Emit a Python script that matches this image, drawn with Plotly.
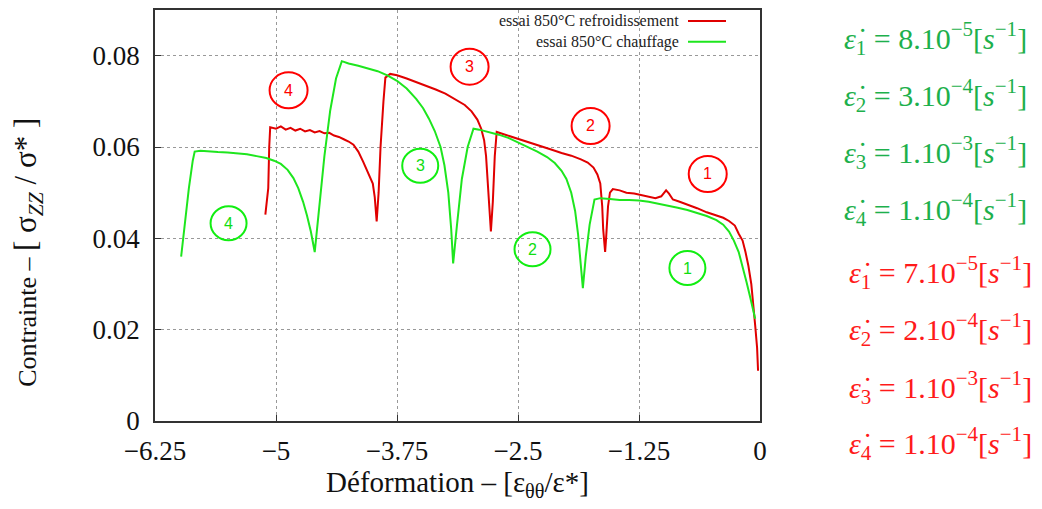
import plotly.graph_objects as go

# ---------------- data ----------------
red_x = [-5.11, -5.10, -5.09, -5.08, -5.07, -5.06, -5.00, -4.95, -4.90, -4.85, -4.80, -4.75, -4.70,
         -4.65, -4.60, -4.55, -4.50, -4.45, -4.40, -4.35, -4.30, -4.25, -4.20, -4.15, -4.10, -4.05,
         -4.00, -3.98, -3.96, -3.94, -3.92, -3.89, -3.87, -3.82, -3.75, -3.65, -3.55, -3.45, -3.35,
         -3.25, -3.15, -3.05, -2.98, -2.92, -2.88, -2.85, -2.83, -2.81, -2.79, -2.78, -2.76, -2.74,
         -2.72, -2.65, -2.55, -2.45, -2.35, -2.25, -2.15, -2.05, -1.95, -1.85, -1.78, -1.72, -1.68,
         -1.65, -1.63, -1.62, -1.60, -1.59, -1.57, -1.55, -1.52, -1.45, -1.38, -1.30, -1.22, -1.15,
         -1.08, -1.02, -0.97, -0.94, -0.90, -0.83, -0.75, -0.65, -0.55, -0.45, -0.38, -0.32, -0.26,
         -0.22, -0.18, -0.15, -0.12, -0.09, -0.07, -0.05, -0.03, -0.02]
red_y = [0.0452, 0.0470, 0.0500, 0.0510, 0.0600, 0.0643, 0.0640, 0.0645, 0.0638, 0.0642, 0.0636, 0.0640, 0.0634,
         0.0637, 0.0632, 0.0635, 0.0630, 0.0631, 0.0625, 0.0622, 0.0617, 0.0612, 0.0605, 0.0590, 0.0568, 0.0545,
         0.0520, 0.0490, 0.0437, 0.0500, 0.0600, 0.0700, 0.0752, 0.0760, 0.0757, 0.0750, 0.0742, 0.0735, 0.0726,
         0.0717, 0.0705, 0.0692, 0.0678, 0.0660, 0.0640, 0.0615, 0.0580, 0.0520, 0.0460, 0.0415, 0.0480, 0.0580,
         0.0633, 0.0628, 0.0622, 0.0614, 0.0607, 0.0601, 0.0594, 0.0587, 0.0581, 0.0573, 0.0566, 0.0555, 0.0540,
         0.0520, 0.0470, 0.0420, 0.0370, 0.0400, 0.0470, 0.0500, 0.0508, 0.0505, 0.0500, 0.0498, 0.0494, 0.0490,
         0.0488, 0.0492, 0.0505, 0.0498, 0.0485, 0.0480, 0.0474, 0.0466, 0.0457, 0.0450, 0.0445, 0.0438, 0.0428,
         0.0410, 0.0395, 0.0370, 0.0340, 0.0300, 0.0260, 0.0210, 0.0160, 0.0110]

green_x = [-5.98, -5.94, -5.90, -5.86, -5.84, -5.78, -5.70, -5.60, -5.50, -5.40, -5.30, -5.20, -5.10,
           -5.02, -4.95, -4.88, -4.82, -4.77, -4.72, -4.68, -4.64, -4.60, -4.56, -4.50, -4.44, -4.38,
           -4.32, -4.25, -4.15, -4.05, -3.95, -3.85, -3.75, -3.65, -3.55, -3.48, -3.42, -3.36, -3.30,
           -3.26, -3.22, -3.19, -3.17, -3.13, -3.08, -3.02, -2.96, -2.90, -2.80, -2.70, -2.60, -2.50,
           -2.40, -2.30, -2.20, -2.12, -2.05, -2.00, -1.95, -1.91, -1.88, -1.85, -1.83, -1.80, -1.76,
           -1.71, -1.65, -1.55, -1.45, -1.35, -1.25, -1.15, -1.05, -0.95, -0.85, -0.75, -0.65, -0.55,
           -0.45, -0.38, -0.32, -0.27, -0.22, -0.18, -0.14, -0.10, -0.07, -0.05]
green_y = [0.0360, 0.0440, 0.0510, 0.0570, 0.0590, 0.0592, 0.0590, 0.0589, 0.0588, 0.0586, 0.0584, 0.0580, 0.0576,
           0.0570, 0.0563, 0.0550, 0.0532, 0.0510, 0.0480, 0.0450, 0.0415, 0.0370, 0.0450, 0.0580, 0.0680, 0.0750,
           0.0788, 0.0783, 0.0778, 0.0772, 0.0766, 0.0757, 0.0745, 0.0728, 0.0705, 0.0685, 0.0662, 0.0635, 0.0600,
           0.0560, 0.0500, 0.0420, 0.0345, 0.0430, 0.0530, 0.0600, 0.0640, 0.0638, 0.0633, 0.0627, 0.0620, 0.0610,
           0.0600, 0.0590, 0.0578, 0.0565, 0.0548, 0.0530, 0.0500, 0.0460, 0.0410, 0.0340, 0.0291, 0.0360, 0.0430,
           0.0485, 0.0488, 0.0486, 0.0484, 0.0484, 0.0483, 0.0480, 0.0476, 0.0472, 0.0467, 0.0462, 0.0456, 0.0449,
           0.0440, 0.0430, 0.0415, 0.0395, 0.0370, 0.0340, 0.0305, 0.0270, 0.0240, 0.0224]

series_names = ["essai 850°C refroidissement", "essai 850°C chauffage"]
x_ticks = [-6.25, -5, -3.75, -2.5, -1.25, 0]
x_ticklabels = ["−6.25", "−5", "−3.75", "−2.5", "−1.25", "0"]
y_ticks = [0, 0.02, 0.04, 0.06, 0.08]
y_ticklabels = ["0", "0.02", "0.04", "0.06", "0.08"]

circle_labels = ["1", "2", "3", "4"]
red_circle_x = [-0.54, -1.75, -3.0, -4.87]
red_circle_y = [0.0541, 0.0646, 0.0776, 0.0724]
green_circle_x = [-0.75, -2.35, -3.51, -5.49]
green_circle_y = [0.0335, 0.0376, 0.0559, 0.0433]

green_rates = ["8.10<sup>−5</sup>", "3.10<sup>−4</sup>", "1.10<sup>−3</sup>", "1.10<sup>−4</sup>"]
red_rates = ["7.10<sup>−5</sup>", "2.10<sup>−4</sup>", "1.10<sup>−3</sup>", "1.10<sup>−4</sup>"]

RED = "#e00000"
GREEN = "#1ee61e"
TXT_GREEN = "#1db04c"
TXT_RED = "#ff1a1a"
SERIF = "Liberation Serif"

fig = go.Figure()
fig.add_trace(go.Scatter(x=red_x, y=red_y, mode="lines", name=series_names[0],
                         line=dict(color=RED, width=2), showlegend=False))
fig.add_trace(go.Scatter(x=green_x, y=green_y, mode="lines", name=series_names[1],
                         line=dict(color=GREEN, width=2), showlegend=False))

L, R, T, B = 155, 282, 8, 88
W, H = 1042, 509
pw, ph = W - L - R, H - T - B

def px2paper_x(px):
    return (px - L) / pw

def px2paper_y(py):
    return (H - B - py) / ph

shapes = []
annotations = []

# manual legend (text right-aligned, sample line on right, gnuplot style)
for i, (name, col) in enumerate(zip(series_names, [RED, GREEN])):
    yy = 19 + i * 21
    annotations.append(dict(xref="paper", yref="paper", x=px2paper_x(681), y=px2paper_y(yy),
                            xanchor="right", yanchor="middle", showarrow=False, text=name,
                            font=dict(family=SERIF, size=16, color="#222")))
    shapes.append(dict(type="line", xref="paper", yref="paper", x0=px2paper_x(688), x1=px2paper_x(726),
                       y0=px2paper_y(yy), y1=px2paper_y(yy), line=dict(color=col, width=2)))

# numbered circles
for lab, cx, cy in zip(circle_labels, red_circle_x, red_circle_y):
    shapes.append(dict(type="circle", xref="x", yref="y", xsizemode="pixel", ysizemode="pixel",
                       xanchor=cx, yanchor=cy, x0=-19, x1=19, y0=-18, y1=18,
                       line=dict(color="#ff0000", width=2)))
    annotations.append(dict(x=cx, y=cy, text=lab, showarrow=False,
                            font=dict(family="Liberation Sans", size=16, color="#ff0000")))
for lab, cx, cy in zip(circle_labels, green_circle_x, green_circle_y):
    shapes.append(dict(type="circle", xref="x", yref="y", xsizemode="pixel", ysizemode="pixel",
                       xanchor=cx, yanchor=cy, x0=-18, x1=18, y0=-17, y1=17,
                       line=dict(color="#11ee11", width=2)))
    annotations.append(dict(x=cx, y=cy, text=lab, showarrow=False,
                            font=dict(family="Liberation Sans", size=16, color="#11dd11")))

# strain-rate equations on the right
eq_y_green = [37, 94, 151, 208]
eq_y_red = [272, 329, 387, 444]
for i, r in enumerate(green_rates):
    txt = f"<i>ε̇</i><sub>{i+1}</sub> = {r}[<i>s</i><sup>−1</sup>]"
    annotations.append(dict(xref="paper", yref="paper", x=px2paper_x(842), y=px2paper_y(eq_y_green[i]),
                            xanchor="left", yanchor="middle", showarrow=False, text=txt,
                            font=dict(family=SERIF, size=30, color=TXT_GREEN)))
for i, r in enumerate(red_rates):
    txt = f"<i>ε̇</i><sub>{i+1}</sub> = {r}[<i>s</i><sup>−1</sup>]"
    annotations.append(dict(xref="paper", yref="paper", x=px2paper_x(847), y=px2paper_y(eq_y_red[i]),
                            xanchor="left", yanchor="middle", showarrow=False, text=txt,
                            font=dict(family=SERIF, size=30, color=TXT_RED)))

# y-axis title (gnuplot places it a bit below centre)
annotations.append(dict(xref="paper", yref="paper", x=px2paper_x(28), y=px2paper_y(252),
                        xanchor="center", yanchor="middle", textangle=-90, showarrow=False,
                        text="Contrainte – <span style='font-size:31px'>[ σ<sub><i>ZZ</i></sub> / σ* ]</span>",
                        font=dict(family=SERIF, size=26, color="#111")))

axis_common = dict(showline=True, linecolor="#333", linewidth=1.5, mirror=True,
                   ticks="inside", ticklen=6, tickcolor="#333",
                   showgrid=True, gridcolor="#999", griddash="dot", gridwidth=1,
                   zeroline=False, tickfont=dict(family=SERIF, size=27, color="#111"))

fig.update_layout(
    width=W, height=H,
    margin=dict(l=L, r=R, t=T, b=B),
    paper_bgcolor="white", plot_bgcolor="white",
    xaxis=dict(range=[-6.25, 0], tickvals=x_ticks, ticktext=x_ticklabels, ticklabelstandoff=5,
               title=dict(text="Déformation – [ε<sub>θθ</sub>/ε*]",
                          font=dict(family=SERIF, size=29, color="#111"), standoff=6),
               **axis_common),
    yaxis=dict(range=[0, 0.09], tickvals=y_ticks, ticktext=y_ticklabels, ticklabelstandoff=8,
               **axis_common),
    shapes=shapes, annotations=annotations,
)

fig.write_html("out.html", config={"displayModeBar": False},
               post_script="document.body.style.margin='0px';")
